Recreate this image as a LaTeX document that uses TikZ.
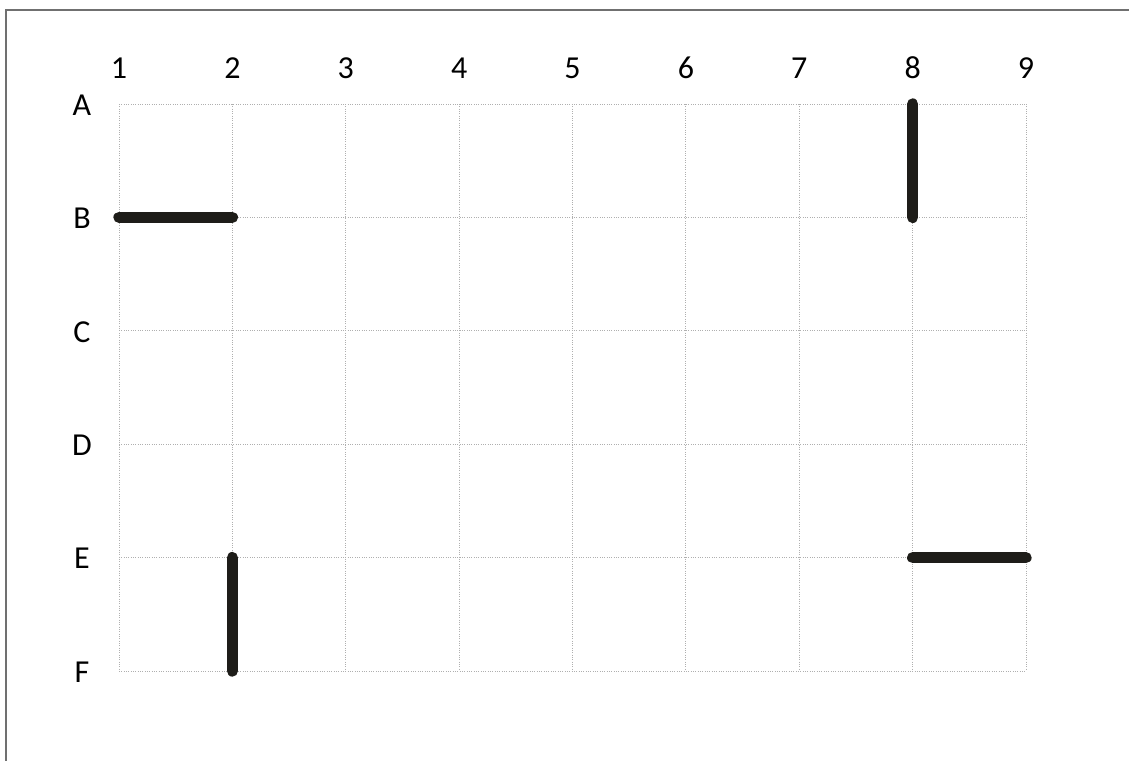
\documentclass[tikz,border=0pt]{standalone}
\usepackage{fontspec}
\setmainfont{Carlito}
\usetikzlibrary{positioning, calc}
\definecolor{wallcol}{RGB}{30,29,25}
\definecolor{framecol}{RGB}{112,112,112}
\definecolor{gridcol}{RGB}{175,175,175}
\tikzset{
  gridline/.style={draw=gridcol, line width=0.75pt, densely dotted},
  wall/.style={draw=wallcol, line width=8.5pt, line cap=round},
  lbl/.style={font=\fontsize{24}{28}\selectfont, inner sep=0pt}
}
\begin{document}
\begin{tikzpicture}[x=0.75pt, y=-0.75pt]
  \useasboundingbox (0,0) rectangle (1129,761);
  % frame
  \coordinate (fa) at (6,761);
  \coordinate (fb) at (6,10);
  \coordinate (fc) at (1129,10);
  \draw[framecol, line width=1.2pt] (fa) -- (fb) -- (fc);
  % grid points
  \foreach \col in {1,...,9}
    \foreach \row [count=\j] in {A,B,C,D,E,F}
      \coordinate (\row\col) at ({119+(\col-1)*113.375},{104+(\j-1)*113.4});
  % grid
  \foreach \row in {A,B,C,D,E,F}
    \draw[gridline] (\row1) -- (\row9);
  \foreach \col in {1,...,9}
    \draw[gridline] (A\col) -- (F\col);
  % labels
  \foreach \col in {1,...,9}
    \node[lbl] (c\col) at ($(A\col)+(0,-36)$) {\col};
  \foreach \row in {A,B,C,D,E,F}
    \node[lbl] (r\row) at ($(\row1)+(-37,1)$) {\row};
  % walls
  \draw[wall] (B1) -- (B2);
  \draw[wall] (A8) -- (B8);
  \draw[wall] (E8) -- (E9);
  \draw[wall] (E2) -- (F2);
\end{tikzpicture}
\end{document}
